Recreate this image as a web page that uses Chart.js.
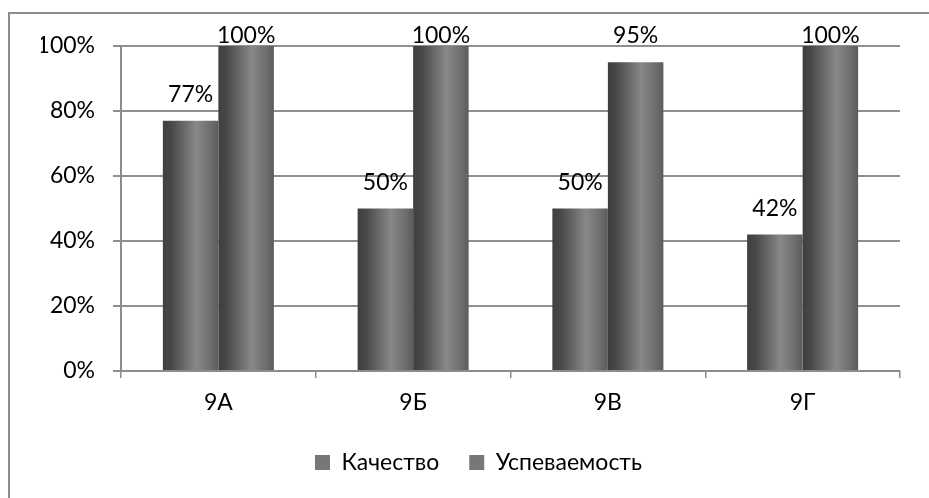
<!DOCTYPE html>
<html>
<head>
<meta charset="utf-8">
<script src="https://cdn.jsdelivr.net/npm/chart.js@4/dist/chart.umd.min.js"></script>
<style>
  html, body { margin: 0; padding: 0; background: #fff; }
  #wrap { position: relative; width: 929px; height: 498px; overflow: hidden; }
  #frame { position: absolute; left: 8px; top: 12px; width: 1000px; height: 600px;
           border-left: 2px solid #8c8c8c; border-top: 2px solid #8c8c8c; box-sizing: border-box; }
  canvas { position: absolute; left: 0; top: 0; }
</style>
</head>
<body>
<div id="wrap">
  <div id="frame"></div>
  <canvas id="c" width="929" height="498"></canvas>
</div>
<script>
const categories = ['9А', '9Б', '9В', '9Г'];
const seriesNames = ['Качество', 'Успеваемость'];
const quality = [77, 50, 50, 42];
const progress = [100, 100, 95, 100];
const yTicks = [0, 20, 40, 60, 80, 100];

const FONT = 'Lato, "Open Sans", sans-serif';
const CAT_PCT = 0.57;

function barGradient(ctx) {
  const chart = ctx.chart;
  const xs = chart.scales && chart.scales.x;
  if (!chart.chartArea || !xs || ctx.dataIndex === undefined) return '#6e6e6e';
  const n = categories.length;
  const catW = (xs.right - xs.left) / n;
  const barW = catW * CAT_PCT / 2;
  const center = xs.getPixelForValue(ctx.dataIndex);
  const left = center - barW + ctx.datasetIndex * barW;
  const g = chart.ctx.createLinearGradient(left, 0, left + barW, 0);
  g.addColorStop(0, '#3e3e3e');
  g.addColorStop(0.15, '#484848');
  g.addColorStop(0.6, '#888888');
  g.addColorStop(0.85, '#6f6f6f');
  g.addColorStop(1, '#5c5c5c');
  return g;
}

const valueLabels = {
  id: 'valueLabels',
  afterDatasetsDraw(chart) {
    const c = chart.ctx;
    c.save();
    c.font = '23px ' + FONT;
    c.fillStyle = '#000';
    c.textAlign = 'center';
    c.textBaseline = 'alphabetic';
    chart.data.datasets.forEach((ds, di) => {
      chart.getDatasetMeta(di).data.forEach((bar, i) => {
        const y = Math.max(bar.y - 19, 43);
        c.fillText(ds.data[i] + '%', bar.x, y);
      });
    });
    c.restore();
  }
};

const legendShift = {
  id: 'legendShift',
  afterLayout(chart) {
    if (chart.legend) { chart.legend.left += 8; chart.legend.right += 8; }
  }
};

new Chart(document.getElementById('c'), {
  type: 'bar',
  data: {
    labels: categories,
    datasets: [
      { label: seriesNames[0], data: quality, backgroundColor: barGradient, borderWidth: 0,
        categoryPercentage: CAT_PCT, barPercentage: 1 },
      { label: seriesNames[1], data: progress, backgroundColor: barGradient, borderWidth: 0,
        categoryPercentage: CAT_PCT, barPercentage: 1 }
    ]
  },
  options: {
    responsive: false,
    animation: false,
    devicePixelRatio: 1,
    layout: { padding: { left: 41, right: 29, top: 46, bottom: 14 } },
    scales: {
      x: {
        grid: { drawOnChartArea: false, drawTicks: true, tickLength: 7, color: '#8c8c8c', lineWidth: 1.5, offset: true },
        border: { color: '#8c8c8c', width: 2 },
        ticks: { font: { family: FONT, size: 23 }, color: '#000', padding: 11 },
        afterFit(s) { s.height = 50; }
      },
      y: {
        min: 0, max: 100,
        afterBuildTicks(s) { s.ticks = yTicks.map(v => ({ value: v })); },
        grid: { color: '#8f8f8f', lineWidth: 2, drawTicks: true, tickLength: 8 },
        border: { color: '#8c8c8c', width: 2 },
        ticks: { font: { family: FONT, size: 23 }, color: '#000', padding: 18,
                 callback: v => v + '%' },
        afterFit(s) { s.width = 80; }
      }
    },
    plugins: {
      legend: {
        position: 'bottom',
        maxHeight: 77,
        labels: {
          font: { family: FONT, size: 23 }, color: '#000',
          boxWidth: 15, boxHeight: 15, padding: 30,
          generateLabels(chart) {
            return chart.data.datasets.map((ds, i) => ({
              text: ds.label, fillStyle: '#777777', strokeStyle: '#777777', lineWidth: 0,
              datasetIndex: i, hidden: false
            }));
          }
        }
      },
      tooltip: { enabled: false }
    }
  },
  plugins: [valueLabels, legendShift]
});
</script>
</body>
</html>
